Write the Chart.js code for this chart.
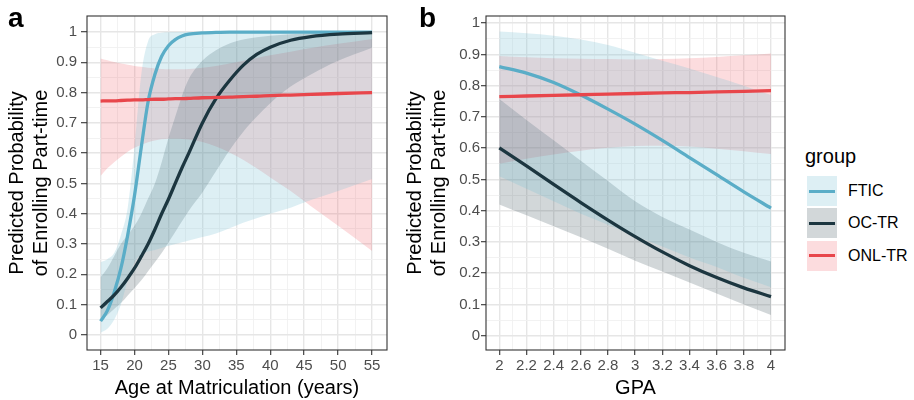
<!DOCTYPE html>
<html>
<head>
<meta charset="utf-8">
<script src="https://cdn.jsdelivr.net/npm/chart.js@4"></script>
<style>
  body { margin: 0; background: #fff; font-family: "Liberation Sans", Arial, sans-serif; }
  #wrap { position: relative; width: 914px; height: 400px; }
  canvas { position: absolute; top: 0; }
  #chartA { left: 0; }
  #chartB { left: 400px; }
  .tag { position: absolute; top: 4px; font-size: 28px; line-height: 28px; font-weight: bold; color: #000; }
  #legend { position: absolute; left: 805px; top: 144px; width: 109px; height: 140px; }
  #legend .title { font-size: 20px; line-height: 24px; color: #000; white-space: nowrap; }
  .key { position: absolute; left: 2px; width: 30px; height: 30px; }
  .key span { position: absolute; left: 2px; right: 2px; top: 13.5px; height: 3px; }
  .lab { position: absolute; left: 43px; font-size: 16px; line-height: 30px; color: #000; white-space: nowrap; }
</style>
</head>
<body>
<div id="wrap">
  <canvas id="chartA" width="400" height="400"></canvas>
  <canvas id="chartB" width="400" height="400"></canvas>
  <div class="tag" style="left:8px">a</div>
  <div class="tag" style="left:419px">b</div>
  <div id="legend"><div class="title">group</div></div>
</div>
<script>
const groups = ["FTIC", "OC-TR", "ONL-TR"];

// panel a: age at matriculation
const ages = [15, 16, 17, 18, 19, 20, 21, 22, 23, 24, 25, 26, 27, 28, 30, 32, 34, 36, 38, 40, 43, 46, 50, 55];
const fticAge   = [0.045, 0.08, 0.14, 0.22, 0.33, 0.46, 0.62, 0.77, 0.86, 0.92, 0.955, 0.975, 0.987, 0.993, 0.997, 0.999, 1, 1, 1, 1, 1, 1, 1, 1];
const fticAgeLo = [0.007, 0.02, 0.05, 0.1, 0.18, 0.24, 0.265, 0.275, 0.28, 0.287, 0.294, 0.3, 0.306, 0.312, 0.323, 0.335, 0.352, 0.37, 0.385, 0.4, 0.42, 0.445, 0.475, 0.515];
const fticAgeHi = [0.24, 0.25, 0.27, 0.33, 0.42, 0.62, 0.86, 0.97, 0.993, 0.998, 0.999, 1, 1, 1, 1, 1, 1, 1, 1, 1, 1, 1, 1, 1];
const ocAge     = [0.089, 0.11, 0.131, 0.157, 0.187, 0.22, 0.259, 0.3, 0.348, 0.4, 0.448, 0.5, 0.552, 0.6, 0.7, 0.78, 0.84, 0.89, 0.926, 0.95, 0.973, 0.985, 0.993, 0.998];
const ocAgeLo   = [0.05, 0.065, 0.085, 0.105, 0.13, 0.155, 0.18, 0.21, 0.24, 0.27, 0.305, 0.34, 0.375, 0.41, 0.47, 0.54, 0.61, 0.67, 0.72, 0.765, 0.82, 0.86, 0.905, 0.948];
const ocAgeHi   = [0.19, 0.22, 0.26, 0.3, 0.33, 0.36, 0.4, 0.45, 0.5, 0.57, 0.65, 0.72, 0.79, 0.845, 0.905, 0.94, 0.962, 0.975, 0.983, 0.988, 0.993, 0.996, 0.998, 1];
const onlAge    = [0.772, 0.773, 0.773, 0.774, 0.775, 0.776, 0.776, 0.777, 0.778, 0.778, 0.779, 0.78, 0.78, 0.781, 0.783, 0.784, 0.785, 0.787, 0.788, 0.79, 0.792, 0.794, 0.797, 0.8];
const onlAgeLo  = [0.525, 0.55, 0.57, 0.588, 0.605, 0.618, 0.628, 0.636, 0.642, 0.646, 0.648, 0.648, 0.647, 0.645, 0.637, 0.622, 0.602, 0.578, 0.55, 0.52, 0.475, 0.425, 0.36, 0.277];
const onlAgeHi  = [0.913, 0.907, 0.901, 0.896, 0.892, 0.888, 0.885, 0.882, 0.88, 0.878, 0.877, 0.877, 0.877, 0.878, 0.882, 0.888, 0.896, 0.905, 0.914, 0.923, 0.935, 0.947, 0.961, 0.977];

// panel b: GPA
const gpa = [2, 2.2, 2.4, 2.6, 2.8, 3, 3.2, 3.4, 3.6, 3.8, 4];
const fticGpa   = [0.861, 0.84, 0.81, 0.77, 0.725, 0.677, 0.625, 0.57, 0.515, 0.46, 0.408];
const fticGpaLo = [0.51, 0.47, 0.43, 0.39, 0.355, 0.32, 0.285, 0.25, 0.22, 0.185, 0.155];
const fticGpaHi = [0.973, 0.968, 0.96, 0.948, 0.93, 0.905, 0.88, 0.855, 0.828, 0.8, 0.77];
const ocGpa     = [0.601, 0.543, 0.484, 0.426, 0.37, 0.317, 0.268, 0.224, 0.186, 0.153, 0.125];
const ocGpaLo   = [0.42, 0.385, 0.35, 0.315, 0.278, 0.24, 0.205, 0.17, 0.135, 0.1, 0.066];
const ocGpaHi   = [0.757, 0.69, 0.625, 0.56, 0.495, 0.43, 0.38, 0.34, 0.3, 0.265, 0.237];
const onlGpa    = [0.765, 0.767, 0.769, 0.771, 0.773, 0.775, 0.777, 0.778, 0.78, 0.782, 0.784];
const onlGpaLo  = [0.55, 0.566, 0.58, 0.592, 0.601, 0.607, 0.608, 0.605, 0.598, 0.59, 0.581];
const onlGpaHi  = [0.895, 0.891, 0.888, 0.886, 0.885, 0.884, 0.885, 0.888, 0.892, 0.897, 0.903];

// tick labels
const probTicks = [0, 0.1, 0.2, 0.3, 0.4, 0.5, 0.6, 0.7, 0.8, 0.9, 1];
const ageTicks = [15, 20, 25, 30, 35, 40, 45, 50, 55];
const gpaTicks = [2, 2.2, 2.4, 2.6, 2.8, 3, 3.2, 3.4, 3.6, 3.8, 4];

const lineColors = ["#5aadc7", "#1c3640", "#e8464b"];
const bandColors = ["rgba(120,190,212,0.25)", "rgba(30,55,65,0.2)", "rgba(240,80,90,0.2)"];
const FONT = '"Liberation Sans", Arial, sans-serif';

function pts(xs, ys) {
  return xs.map((x, i) => ({ x: x, y: ys[i] }));
}

function withMinor(majors) {
  const out = [];
  majors.forEach((v, i) => {
    out.push({ value: v, isMajor: true });
    if (i < majors.length - 1) out.push({ value: (v + majors[i + 1]) / 2, isMajor: false });
  });
  return out;
}

function buildSets(xs, series) {
  const sets = [];
  series.forEach((s, g) => {
    sets.push({ data: pts(xs, s.lo), borderColor: "rgba(0,0,0,0)", borderWidth: 0, pointRadius: 0, fill: false, order: 10, cubicInterpolationMode: "monotone" });
    sets.push({ data: pts(xs, s.hi), borderColor: "rgba(0,0,0,0)", borderWidth: 0, pointRadius: 0, fill: "-1", backgroundColor: bandColors[g], order: 10, cubicInterpolationMode: "monotone" });
  });
  series.forEach((s, g) => {
    sets.push({ data: pts(xs, s.fit), borderColor: lineColors[g], borderWidth: 3.3, pointRadius: 0, fill: false, order: 3 - g, cubicInterpolationMode: "monotone", borderCapStyle: "butt" });
  });
  return sets;
}

function axis(o) {
  return {
    type: "linear",
    min: o.min,
    max: o.max,
    afterBuildTicks: s => { s.ticks = withMinor(o.ticks); },
    afterFit: s => {
      if (o.width) s.width = o.width;
      if (o.height) s.height = o.height;
    },
    ticks: {
      autoSkip: false, maxRotation: 0, color: "#4d4d4d", padding: o.pad,
      font: { family: FONT, size: 15 },
      callback: (v, i, ticks) => ticks[i].isMajor ? String(v) : ""
    },
    grid: {
      color: c => (c.tick && c.tick.isMajor) ? "#e6e6e6" : "#f0f0f0",
      lineWidth: c => (c.tick && c.tick.isMajor) ? 1.4 : 0.9,
      tickLength: o.tl,
      tickColor: c => (c.tick && c.tick.isMajor) ? "#333" : "rgba(0,0,0,0)",
      tickWidth: 1.1
    },
    border: { display: false },
    title: {
      display: true, text: o.title, color: "#000",
      font: { family: FONT, size: 20 },
      padding: o.titlePad
    }
  };
}

const frame = {
  id: "frame",
  afterDatasetsDraw(chart) {
    const a = chart.chartArea, ctx = chart.ctx;
    ctx.save();
    ctx.strokeStyle = "#333";
    ctx.lineWidth = 1.1;
    ctx.strokeRect(a.left, a.top, a.right - a.left, a.bottom - a.top);
    ctx.restore();
  }
};

function makeChart(id, xs, series, xo, yo, padRight) {
  new Chart(document.getElementById(id), {
    type: "line",
    data: { datasets: buildSets(xs, series) },
    options: {
      responsive: false,
      animation: false,
      layout: { padding: { top: 16, right: padRight, left: 0, bottom: 0 } },
      plugins: { legend: { display: false }, tooltip: { enabled: false } },
      scales: { x: axis(xo), y: axis(yo) }
    },
    plugins: [frame]
  });
}

makeChart("chartA", ages, [
  { fit: fticAge, lo: fticAgeLo, hi: fticAgeHi },
  { fit: ocAge, lo: ocAgeLo, hi: ocAgeHi },
  { fit: onlAge, lo: onlAgeLo, hi: onlAgeHi }
],
  { min: 13, max: 57.2, ticks: ageTicks, height: 50, tl: 5, pad: 2, title: "Age at Matriculation (years)", titlePad: { top: 0, bottom: 0 } },
  { min: -0.05, max: 1.053, ticks: probTicks, width: 87, tl: 6, pad: 4, title: ["Predicted Probability", "of Enrolling Part-time"], titlePad: { top: 5, bottom: 0 } },
  13);

makeChart("chartB", gpa, [
  { fit: fticGpa, lo: fticGpaLo, hi: fticGpaHi },
  { fit: ocGpa, lo: ocGpaLo, hi: ocGpaHi },
  { fit: onlGpa, lo: onlGpaLo, hi: onlGpaHi }
],
  { min: 1.902, max: 4.103, ticks: gpaTicks, height: 50, tl: 5, pad: 2, title: "GPA", titlePad: { top: 0, bottom: 0 } },
  { min: -0.046, max: 1.023, ticks: probTicks, width: 86, tl: 5, pad: 1, title: ["Predicted Probability", "of Enrolling Part-time"], titlePad: { top: 3.5, bottom: 0 } },
  15);

// legend
const legend = document.getElementById("legend");
groups.forEach((name, g) => {
  const top = 32 + g * 32.3;
  const key = document.createElement("div");
  key.className = "key";
  key.style.top = top + "px";
  key.style.background = bandColors[g];
  const bar = document.createElement("span");
  bar.style.background = lineColors[g];
  key.appendChild(bar);
  legend.appendChild(key);
  const lab = document.createElement("div");
  lab.className = "lab";
  lab.style.top = top + "px";
  lab.textContent = name;
  legend.appendChild(lab);
});
</script>
</body>
</html>
